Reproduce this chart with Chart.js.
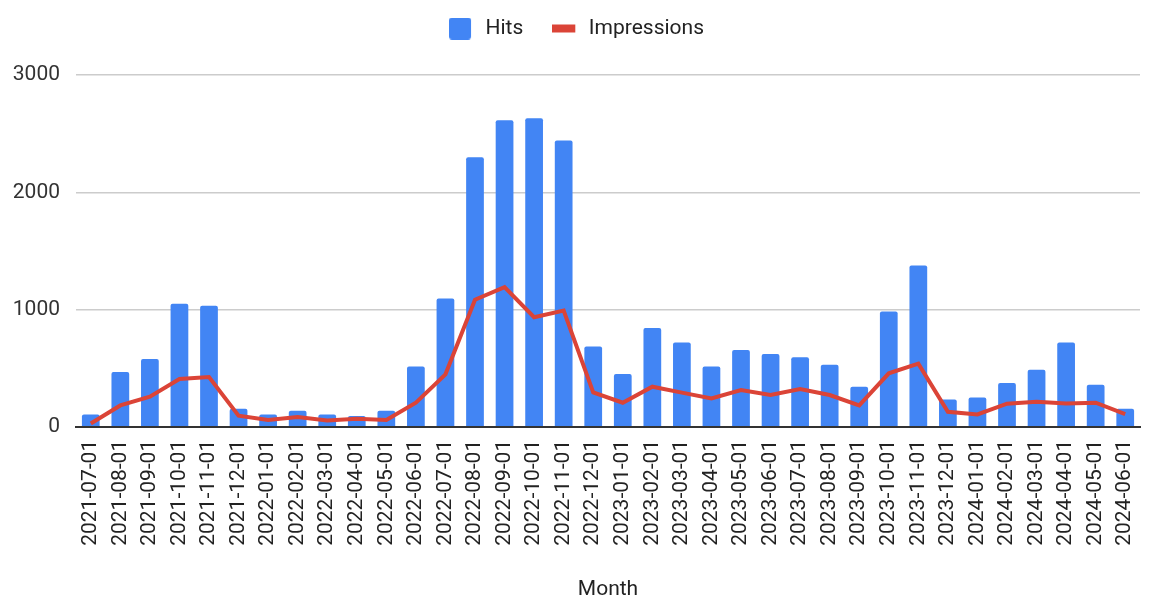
<!DOCTYPE html>
<html>
<head>
<meta charset="utf-8">
<script src="https://cdn.jsdelivr.net/npm/chart.js@4"></script>
<style>
  html, body { margin: 0; padding: 0; background: #fff; }
  #wrap { width: 1149px; height: 602px; position: relative; }
</style>
</head>
<body>
<div id="wrap"><canvas id="c"></canvas></div>
<script>
const months = [
  "2021-07-01","2021-08-01","2021-09-01","2021-10-01","2021-11-01","2021-12-01",
  "2022-01-01","2022-02-01","2022-03-01","2022-04-01","2022-05-01","2022-06-01",
  "2022-07-01","2022-08-01","2022-09-01","2022-10-01","2022-11-01","2022-12-01",
  "2023-01-01","2023-02-01","2023-03-01","2023-04-01","2023-05-01","2023-06-01",
  "2023-07-01","2023-08-01","2023-09-01","2023-10-01","2023-11-01","2023-12-01",
  "2024-01-01","2024-02-01","2024-03-01","2024-04-01","2024-05-01","2024-06-01"
];
const hits = [
  105, 467, 579, 1049, 1032, 154,
  105, 137, 105, 91, 137, 513,
  1094, 2299, 2615, 2632, 2442, 684,
  450, 843, 718, 513, 655, 621,
  592, 530, 342, 983, 1376, 233,
  250, 373, 487, 718, 359, 154
];
const impressions = [
  28, 182, 256, 407, 424, 94,
  57, 83, 54, 68, 57, 205,
  447, 1083, 1191, 934, 991, 293,
  205, 342, 291, 242, 314, 271,
  322, 271, 182, 456, 538, 128,
  105, 197, 214, 199, 205, 108
];
const yMax = 3000;
const yStep = 1000;
const seriesNames = ["Hits", "Impressions"];
const xTitle = "Month";

const BLUE = "#4285F4";
const RED = "#DB4437";
const FONT = "Roboto, 'Liberation Sans', Arial, sans-serif";

function makeSwatch(kind, color) {
  const c = document.createElement("canvas");
  c.width = 26; c.height = 22;
  const g = c.getContext("2d");
  g.fillStyle = color;
  if (kind === "rect") {
    g.beginPath();
    g.roundRect(0, 0, 22, 22, 3);
    g.fill();
  } else {
    g.fillRect(0, 7, 23, 8);
  }
  return c;
}
const hitsSwatch = makeSwatch("rect", BLUE);
const impSwatch = makeSwatch("line", RED);

const legendGap = {
  id: "legendGap",
  beforeInit(chart) {
    const fit = chart.legend.fit;
    chart.legend.fit = function () {
      fit.call(this);
      this.height += 26;
    };
  }
};

new Chart(document.getElementById("c"), {
  data: {
    labels: months,
    datasets: [
      {
        type: "line",
        label: seriesNames[1],
        data: impressions,
        borderColor: RED,
        backgroundColor: RED,
        borderWidth: 4,
        pointRadius: 0,
        tension: 0,
        order: 0
      },
      {
        type: "bar",
        label: seriesNames[0],
        data: hits,
        backgroundColor: BLUE,
        borderWidth: 0,
        borderRadius: 2,
        categoryPercentage: 1.0,
        barPercentage: 0.6,
        order: 1
      }
    ]
  },
  options: {
    responsive: true,
    maintainAspectRatio: false,
    animation: false,
    layout: { padding: { left: 13, right: 9, top: -11, bottom: 0 } },
    plugins: {
      tooltip: { enabled: false },
      legend: {
        position: "top",
        align: "center",
        labels: {
          font: { family: FONT, size: 21 },
          color: "#222",
          padding: 29,
          usePointStyle: true,
          pointStyleWidth: 26,
          boxHeight: 22,
          generateLabels(chart) {
            return [
              {
                text: seriesNames[0],
                fillStyle: BLUE,
                strokeStyle: BLUE,
                lineWidth: 0,
                pointStyle: hitsSwatch,
                datasetIndex: 1,
                fontColor: "#222"
              },
              {
                text: seriesNames[1],
                fillStyle: RED,
                strokeStyle: RED,
                lineWidth: 0,
                pointStyle: impSwatch,
                datasetIndex: 0,
                fontColor: "#222"
              }
            ];
          }
        }
      }
    },
    scales: {
      x: {
        type: "category",
        offset: true,
        grid: { display: false, drawTicks: false },
        border: { display: true, color: "#333", width: 2 },
        afterFit(scale) { scale.paddingLeft = 0; scale.paddingRight = 0; },
        ticks: {
          autoSkip: false,
          maxRotation: 90,
          minRotation: 90,
          padding: 13,
          color: "#222",
          font: { family: FONT, size: 21 }
        },
        title: {
          display: true,
          text: xTitle,
          color: "#222",
          font: { family: FONT, size: 21 },
          padding: { top: 18, bottom: 0 }
        }
      },
      y: {
        min: 0,
        max: yMax,
        afterFit(scale) { scale.width = 63; },
        ticks: {
          stepSize: yStep,
          padding: 16,
          color: "#333",
          font: { family: FONT, size: 21 },
          callback: (v) => String(v)
        },
        grid: { color: "#cccccc", lineWidth: 1.5, drawTicks: false },
        border: { display: false }
      }
    }
  },
  plugins: [legendGap]
});
</script>
</body>
</html>
